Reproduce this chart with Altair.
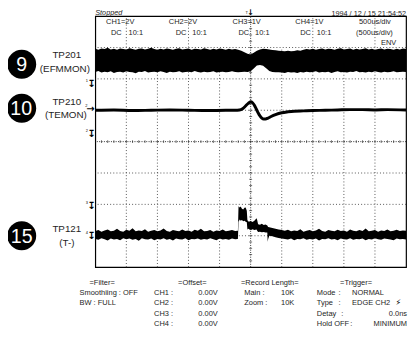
import altair as alt
import pandas as pd

# ---------------- data ----------------
# time in microseconds (500 us/div, 10 div, trigger at centre)
# vertical position in screen divisions (0 = bottom edge, 8 = top edge)

# CH1  TP201 (EFMMON): enveloped band (top / bottom of envelope)
T1_L = list(range(-2500, -199, 50))
TOP1_L = [6.96, 6.93, 6.97, 6.95, 6.99, 6.94, 6.96, 6.93, 6.97, 6.95, 6.94, 6.98, 6.95, 6.93, 6.96, 6.97, 6.94, 6.96, 6.99, 6.95,
          6.93, 6.96, 6.94, 6.97, 6.95, 6.93, 6.96, 6.98, 6.94, 6.95, 6.97, 6.93, 6.96, 6.95, 6.94, 6.98, 6.95, 6.93, 6.96, 6.94,
          6.97, 6.95, 6.93, 6.96, 6.94, 6.95, 6.93]
BOT1_L = [6.22, 6.25, 6.20, 6.23, 6.21, 6.24, 6.19, 6.22, 6.23, 6.20, 6.24, 6.22, 6.21, 6.18, 6.23, 6.22, 6.25, 6.20, 6.22, 6.23,
          6.21, 6.24, 6.22, 6.19, 6.23, 6.21, 6.22, 6.24, 6.20, 6.22, 6.23, 6.21, 6.25, 6.22, 6.20, 6.23, 6.21, 6.22, 6.24, 6.20,
          6.22, 6.23, 6.21, 6.22, 6.24, 6.22, 6.21]
T1_C = [-150, -100, -50, 0, 50, 100, 150, 200, 250, 300, 350, 400]
TOP1_C = [6.90, 6.85, 6.80, 6.78, 6.83, 6.90, 6.94, 6.96, 6.95, 6.94, 6.92, 6.91]
BOT1_C = [6.22, 6.23, 6.22, 6.24, 6.33, 6.43, 6.44, 6.42, 6.34, 6.25, 6.22, 6.21]
T1_R = list(range(450, 2501, 50))
TOP1_R = [6.90, 6.89, 6.88, 6.90, 6.88, 6.89, 6.91, 6.90, 6.93, 6.95, 6.94, 6.96, 6.93, 6.95, 6.97, 6.94, 6.96, 6.95, 6.93, 6.96,
          6.98, 6.94, 6.95, 6.97, 6.93, 6.96, 6.94, 6.95, 6.98, 6.94, 6.96, 6.93, 6.95, 6.97, 6.94, 6.96, 6.95, 6.93, 6.96, 6.94,
          6.97, 6.95]
BOT1_R = [6.21, 6.20, 6.19, 6.22, 6.20, 6.21, 6.19, 6.22, 6.20, 6.23, 6.21, 6.22, 6.24, 6.20, 6.22, 6.21, 6.23, 6.19, 6.22, 6.24,
          6.21, 6.22, 6.20, 6.23, 6.22, 6.25, 6.21, 6.22, 6.20, 6.23, 6.21, 6.24, 6.22, 6.20, 6.23, 6.21, 6.22, 6.24, 6.21, 6.22,
          6.23, 6.22]

# CH2  TP210 (TEMON): single line
T2 = [-2500, -2200, -1900, -1600, -1300, -1000, -700, -400, -250, -180, -130, -90, -50, -20,
      0, 30, 60, 90, 120, 150, 180, 210, 240, 280, 330, 400, 500, 600, 700, 850, 1000,
      1200, 1400, 1600, 1800, 2000, 2200, 2500]
TP210 = [5.00, 5.01, 4.99, 5.00, 5.01, 5.00, 4.99, 5.00, 5.00, 5.01, 5.05, 5.12, 5.20, 5.25,
         5.27, 5.24, 5.16, 5.04, 4.92, 4.82, 4.75, 4.72, 4.72, 4.75, 4.80, 4.86, 4.92, 4.95,
         4.97, 4.98, 4.99, 5.00, 5.01, 5.02, 5.02, 5.01, 5.02, 5.01]

# CH4  TP121 (T-): enveloped band with pulse
T3_L = list(range(-2500, -249, 50))
TOP3_L = [1.15, 1.18, 1.13, 1.17, 1.20, 1.14, 1.16, 1.22, 1.15, 1.13, 1.19, 1.16, 1.24, 1.14, 1.17, 1.15, 1.21, 1.13, 1.16, 1.18,
          1.14, 1.17, 1.23, 1.15, 1.13, 1.18, 1.16, 1.14, 1.20, 1.15, 1.17, 1.13, 1.19, 1.16, 1.22, 1.14, 1.15, 1.18, 1.13, 1.17,
          1.15, 1.20, 1.14, 1.16, 1.18, 1.15]
BOT3_L = [0.90, 0.87, 0.92, 0.89, 0.85, 0.91, 0.88, 0.90, 0.86, 0.92, 0.89, 0.91, 0.87, 0.90, 0.84, 0.92, 0.89, 0.88, 0.91, 0.86,
          0.90, 0.88, 0.92, 0.87, 0.90, 0.85, 0.91, 0.89, 0.88, 0.92, 0.86, 0.90, 0.89, 0.91, 0.87, 0.90, 0.88, 0.92, 0.89, 0.86,
          0.91, 0.88, 0.90, 0.87, 0.91, 0.89]
T3_P = [-205, -195, -175, -160, -140, -120, -100, -80, -62, -52, -30, 0, 30, 60, 95, 105, 120, 150, 180, 210,
        240, 268, 274, 282, 300, 350, 400, 450, 500]
TOP3_P = [1.16, 1.94, 1.90, 1.93, 1.86, 1.84, 1.89, 1.90, 1.80, 1.49, 1.45, 1.47, 1.44, 1.48, 1.56, 1.50, 1.37, 1.35, 1.38, 1.34,
          1.36, 1.33, 1.30, 1.28, 1.27, 1.25, 1.22, 1.20, 1.18]
BOT3_P = [0.90, 1.45, 1.52, 1.48, 1.50, 1.46, 1.48, 1.45, 1.43, 1.20, 1.22, 1.19, 1.21, 1.18, 1.20, 1.16, 1.12, 1.13, 1.11, 1.12,
          1.10, 1.10, 0.81, 0.90, 1.00, 0.98, 0.95, 0.93, 0.91]
T3_R = list(range(550, 2501, 50))
TOP3_R = [1.16, 1.19, 1.14, 1.17, 1.15, 1.21, 1.13, 1.16, 1.18, 1.14, 1.17, 1.22, 1.15, 1.13, 1.18, 1.16, 1.14, 1.19, 1.15, 1.17,
          1.13, 1.20, 1.16, 1.14, 1.18, 1.15, 1.23, 1.14, 1.16, 1.18, 1.13, 1.17, 1.15, 1.20, 1.14, 1.16, 1.19, 1.15, 1.17, 1.16]
BOT3_R = [0.90, 0.88, 0.91, 0.86, 0.90, 0.89, 0.92, 0.87, 0.90, 0.88, 0.91, 0.85, 0.90, 0.89, 0.92, 0.88, 0.90, 0.86, 0.91, 0.89,
          0.88, 0.92, 0.87, 0.90, 0.89, 0.91, 0.86, 0.90, 0.88, 0.92, 0.89, 0.87, 0.91, 0.90, 0.88, 0.86, 0.91, 0.89, 0.90, 0.88]

for a, b, c in [(T1_L, TOP1_L, BOT1_L), (T1_C, TOP1_C, BOT1_C), (T1_R, TOP1_R, BOT1_R),
                (T3_L, TOP3_L, BOT3_L), (T3_P, TOP3_P, BOT3_P), (T3_R, TOP3_R, BOT3_R)]:
    assert len(a) == len(b) == len(c), (len(a), len(b), len(c))
assert len(T2) == len(TP210)

GRID_T = [-2000, -1500, -1000, -500, 0, 500, 1000, 1500, 2000]
GRID_TOP = [8, 7, 8, 7, 8, 7, 8, 7, 8]
GRID_DIV = [1, 2, 3, 4, 5, 6, 7]

# ---------------- layout ----------------
W, H = 317, 256
OX, OY = 97, 13            # page position of the plot frame
FONT = "Liberation Sans"
INK = "#1e1e1e"

XS = alt.Scale(domain=[-2500, 2500], nice=False, zero=False)
YS = alt.Scale(domain=[0, 8], nice=False, zero=False)

df1 = pd.DataFrame({"t": T1_L + T1_C + T1_R, "top": TOP1_L + TOP1_C + TOP1_R, "bot": BOT1_L + BOT1_C + BOT1_R})
df2 = pd.DataFrame({"t": T2, "v": TP210})
df3 = pd.DataFrame({"t": T3_L + T3_P + T3_R, "top": TOP3_L + TOP3_P + TOP3_R, "bot": BOT3_L + BOT3_P + BOT3_R})

vgrid = pd.DataFrame({"t": GRID_T, "y0": [0] * len(GRID_T), "y1": GRID_TOP})
vgrid_side = vgrid[vgrid.t != 0]
hgrid = pd.DataFrame({"d": GRID_DIV})
hgrid_side = hgrid[hgrid.d != 4]

grid_style = dict(color="#555555", strokeWidth=1, strokeDash=[1, 2.2])
centre_style = dict(color="#333333", strokeWidth=1, strokeDash=[1, 1.4])

v_lines = alt.Chart(vgrid_side).mark_rule(**grid_style).encode(
    x=alt.X("t:Q", scale=XS, axis=None),
    y=alt.Y("y0:Q", scale=YS, axis=None), y2="y1:Q")
v_centre = alt.Chart(vgrid[vgrid.t == 0]).mark_rule(**centre_style).encode(
    x=alt.X("t:Q", scale=XS, axis=None),
    y=alt.Y("y0:Q", scale=YS, axis=None), y2="y1:Q")
h_lines = alt.Chart(hgrid_side).mark_rule(**grid_style).encode(
    y=alt.Y("d:Q", scale=YS, axis=None))
h_centre = alt.Chart(hgrid[hgrid.d == 4]).mark_rule(**centre_style).encode(
    y=alt.Y("d:Q", scale=YS, axis=None))

minor_v = pd.DataFrame({"d": [i / 5 for i in range(1, 40)], "t": 0})
minor_h = pd.DataFrame({"t": [i * 100 for i in range(-24, 25)], "d": 4})
ticks_v = alt.Chart(minor_v).mark_tick(orient="horizontal", size=3, thickness=1, color="#333").encode(
    x=alt.X("t:Q", scale=XS, axis=None), y=alt.Y("d:Q", scale=YS, axis=None))
ticks_h = alt.Chart(minor_h).mark_tick(orient="vertical", size=3, thickness=1, color="#333").encode(
    x=alt.X("t:Q", scale=XS, axis=None), y=alt.Y("d:Q", scale=YS, axis=None))

tr1 = alt.Chart(df1).mark_area(color="black", interpolate="linear").encode(
    x=alt.X("t:Q", scale=XS, axis=None),
    y=alt.Y("top:Q", scale=YS, axis=None), y2="bot:Q")
tr2 = alt.Chart(df2).mark_line(color="black", strokeWidth=3, interpolate="monotone").encode(
    x=alt.X("t:Q", scale=XS, axis=None),
    y=alt.Y("v:Q", scale=YS, axis=None))
tr3 = alt.Chart(df3).mark_area(color="black", interpolate="linear").encode(
    x=alt.X("t:Q", scale=XS, axis=None),
    y=alt.Y("top:Q", scale=YS, axis=None), y2="bot:Q")


def text_layer(rows, **style):
    df = pd.DataFrame(rows, columns=["px", "py", "label"])
    df["vx"] = df.px - OX
    df["vy"] = df.py - OY
    base = dict(font=FONT, fontSize=7.6, color=INK, baseline="middle", align="left")
    base.update(style)
    return alt.Chart(df).mark_text(**base).encode(
        x=alt.X("vx:Q", scale=None, axis=None),
        y=alt.Y("vy:Q", scale=None, axis=None),
        text="label:N")


R1, R2, R3, R4, R5 = 285, 295.5, 306, 316.5, 327

txt_left = text_layer([
    (108, 19.5, "CH1=2V"), (172, 19.5, "CH2=2V"), (237, 19.5, "CH3=1V"), (301, 19.5, "CH4=1V"),
    (366, 19.5, "500us/div"),
    (113, 30.5, "DC"), (131, 30.5, "10:1"), (179, 30.5, "DC"), (196, 30.5, "10:1"),
    (243, 30.5, "DC"), (260, 30.5, "10:1"), (306, 30.5, "DC"), (323, 30.5, "10:1"),
    (363, 30.5, "(500us/div)"),
    (81, R2, "Smoothiing : OFF"), (81, R3, "BW : FULL"),
    (157, R2, "CH1 :"), (157, R3, "CH2 :"), (157, R4, "CH3 :"), (157, R5, "CH4 :"),
    (249, R2, "Main :"), (249, R3, "Zoom :"),
    (323, R2, "Mode"), (345, R2, ":"), (359, R2, "NORMAL"),
    (323, R3, "Type"), (345, R3, ":"), (359, R3, "EDGE CH2"),
    (323, R4, "Detay"), (348, R4, ":"),
    (323, R5, "Hold OFF"), (357, R5, ":"),
])
txt_right = text_layer([
    (404, 40, "ENV"),
    (222, R2, "0.00V"), (222, R3, "0.00V"), (222, R4, "0.00V"), (222, R5, "0.00V"),
    (300, R2, "10K"), (300, R3, "10K"),
    (415, R4, "0.0ns"), (415, R5, "MINIMUM"),
], align="right")
txt_top_right = text_layer([(414, 12.4, "1994 / 12 / 15  21:54:52")],
                           align="right", baseline="alphabetic", fontSize=7.4)
txt_centre = text_layer([
    (104, R1, "=Filter="), (196, R1, "=Offset="), (275, R1, "=Record Length="),
    (363, R1, "=Trigger="),
], align="center")
txt_stopped = text_layer([(97, 12.0, "Stopped")], fontStyle="italic", fontSize=7.4,
                         baseline="alphabetic")

txt_tp = text_layer([
    (68, 52.5, "TP201"), (66, 67, "(EFMMON)"),
    (68, 100.5, "TP210"), (67, 114, "(TEMON)"),
    (68, 230, "TP121"), (68, 244, "(T-)"),
], align="center", fontSize=10)

circles_df = pd.DataFrame({"px": [22, 22, 22], "py": [62, 107, 237]})
circles_df["vx"] = circles_df.px - OX
circles_df["vy"] = circles_df.py - OY
circles = alt.Chart(circles_df).mark_point(shape="circle", filled=True, size=870, color="black", opacity=1).encode(
    x=alt.X("vx:Q", scale=None, axis=None), y=alt.Y("vy:Q", scale=None, axis=None))
txt_num = text_layer([(22, 63, "9"), (21.5, 108, "10"), (22, 238, "15")],
                     align="center", fontSize=20, color="white")

marks = text_layer([
    (93, 82, "↧"), (93, 133, "↧"), (93, 207, "↧"), (93, 237, "↧"),
    (92, 108, "→"),
], align="center", font="DejaVu Sans", fontSize=10, fontWeight="bold", color="black")
trig = text_layer([(255.5, 10.2, "↓")], align="center", font="DejaVu Sans", fontSize=8,
                  fontWeight="bold", color="black")
marks_small = text_layer([
    (88.5, 79, "1"), (88.5, 130, "2"), (88.5, 204, "3"), (88.5, 234, "4"),
    (88, 104.5, "2"), (251.5, 9.5, "T"),
], align="center", fontSize=4, color="black")
icon = text_layer([(406, R3, "⚡")], align="center", font="DejaVu Sans", fontSize=8, color="black")

chart = alt.layer(
    v_lines, h_lines, v_centre, h_centre, ticks_v, ticks_h,
    tr1, tr2, tr3,
    txt_left, txt_right, txt_top_right, txt_centre, txt_stopped, txt_tp, circles, txt_num,
    marks, trig, marks_small, icon,
).resolve_scale(x="independent", y="independent").properties(
    width=W, height=H,
    autosize=alt.AutoSizeParams(type="none"),
    padding={"left": OX - 8, "top": OY - 8, "right": 2, "bottom": 69},
    background="white",
).configure_view(stroke="black", strokeWidth=1.2)

chart.save("out.html", embed_options={"renderer": "svg", "actions": False})
